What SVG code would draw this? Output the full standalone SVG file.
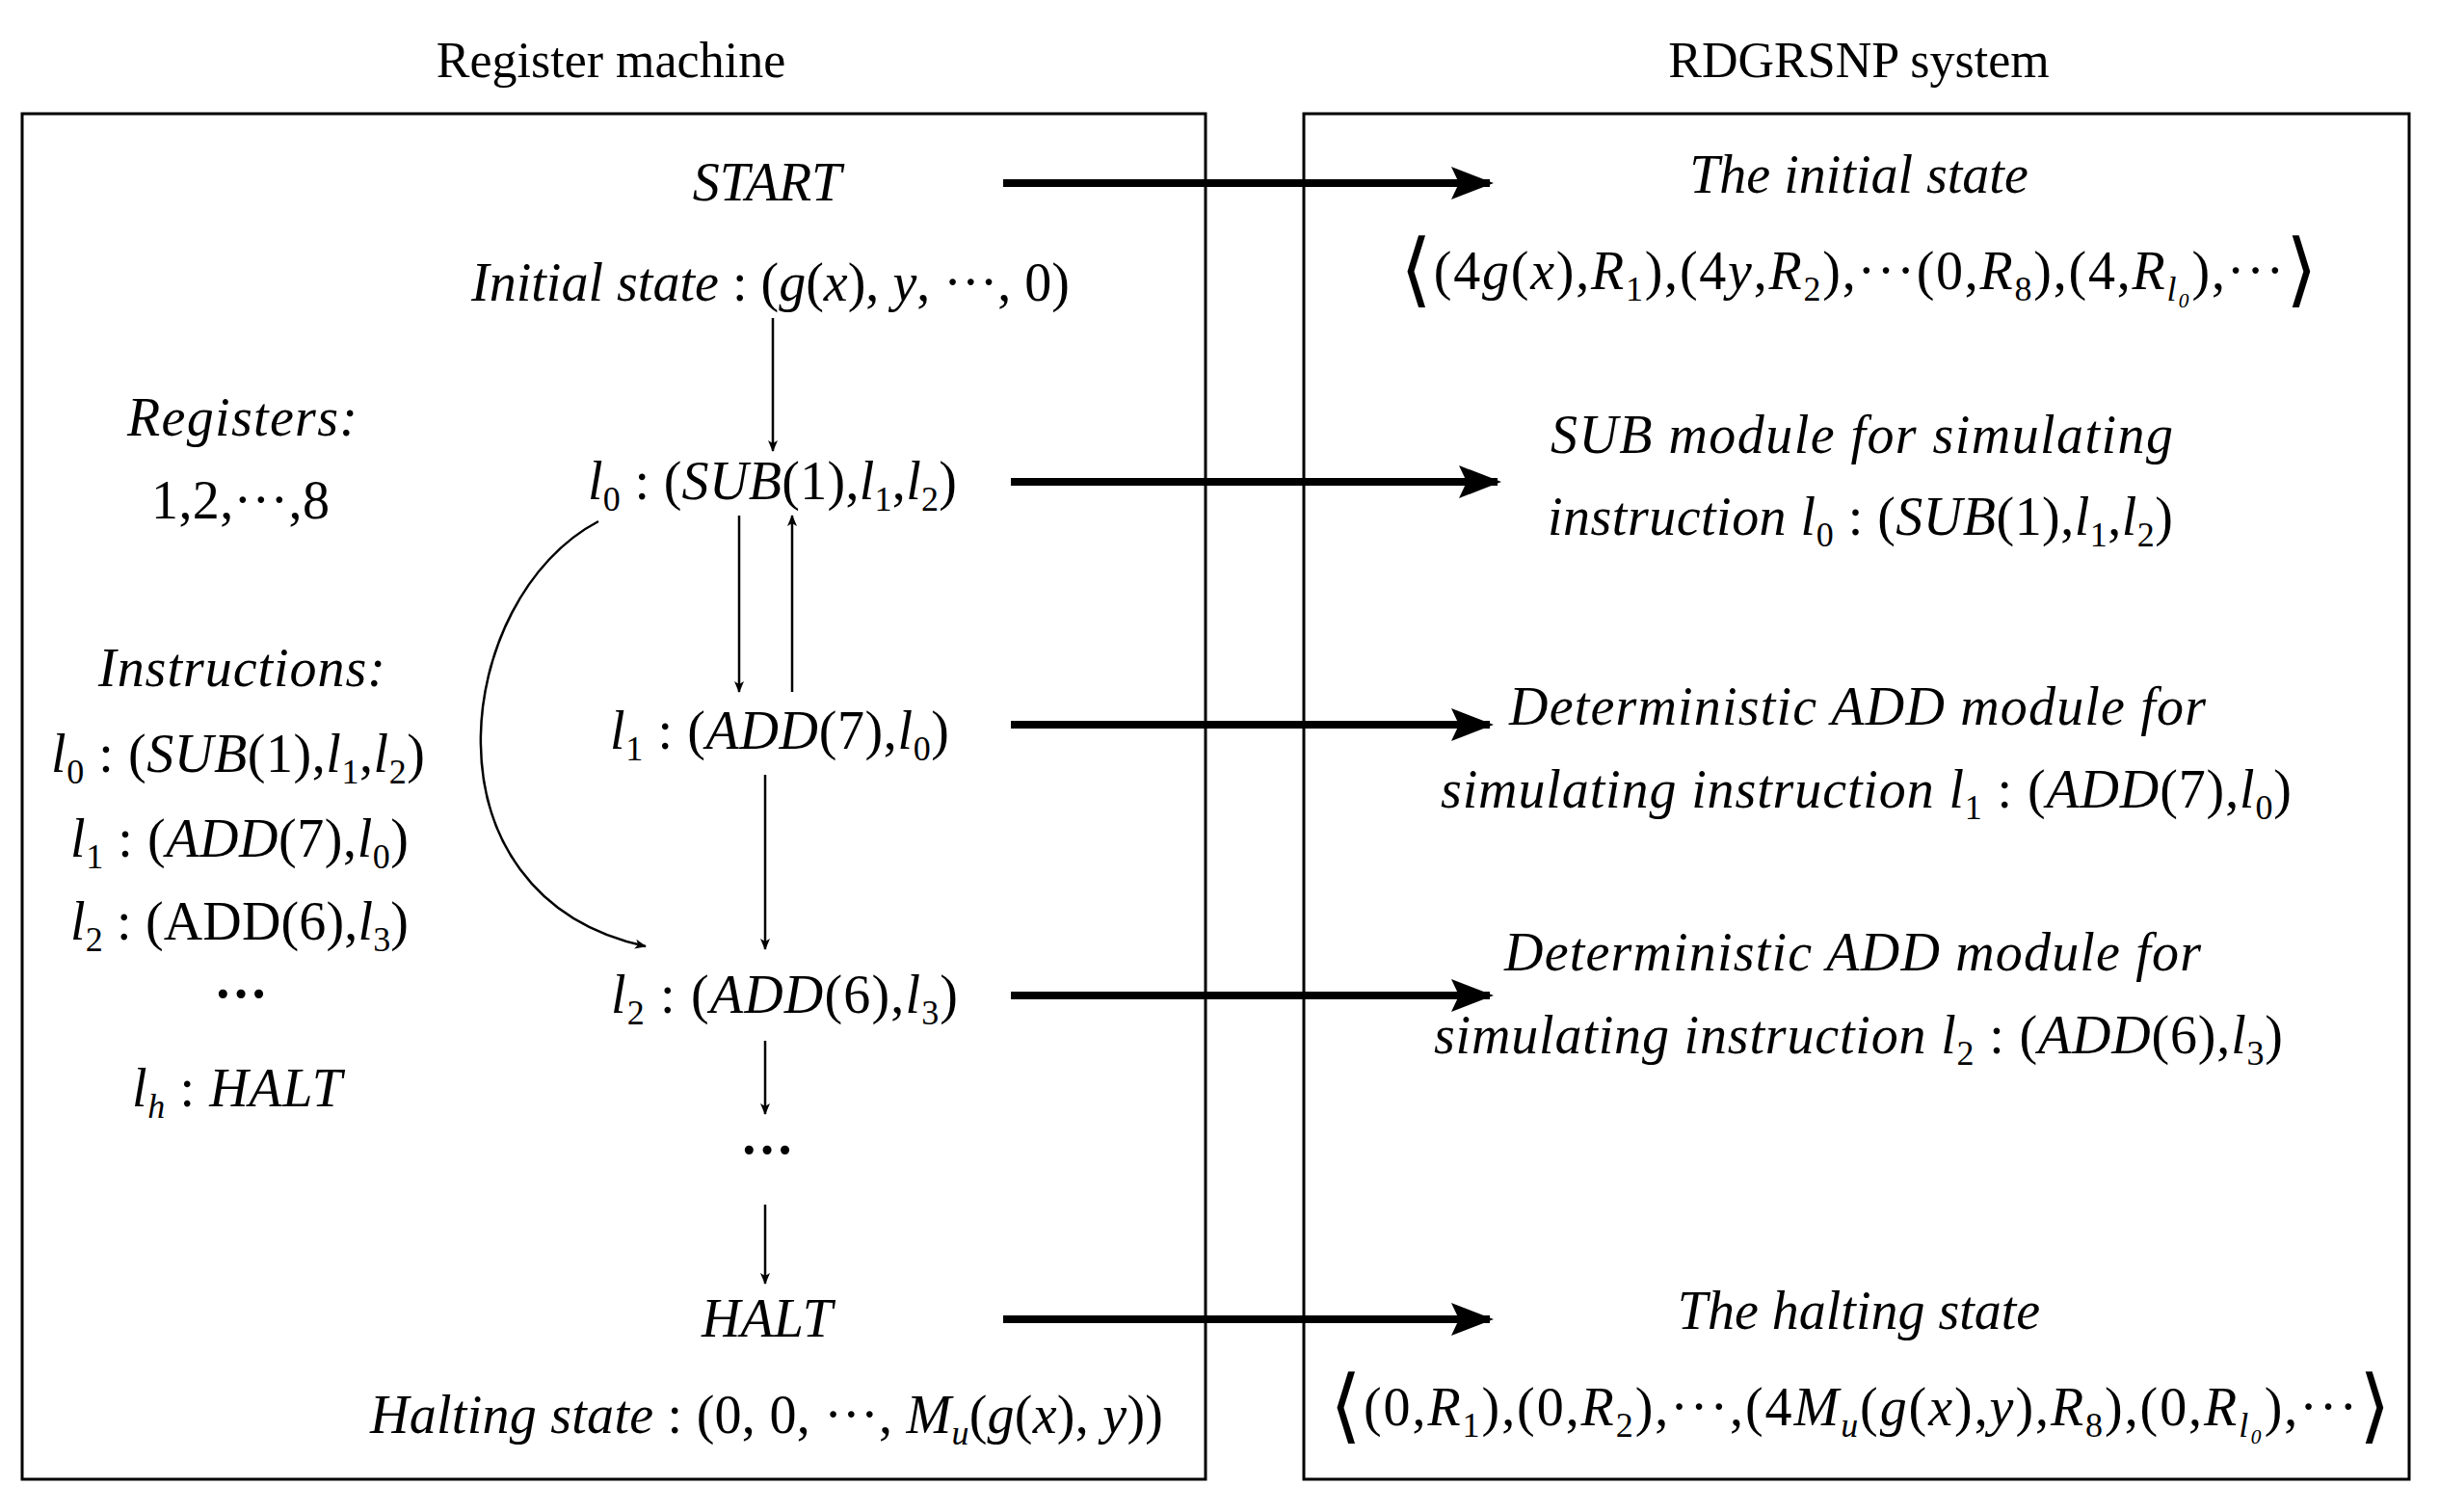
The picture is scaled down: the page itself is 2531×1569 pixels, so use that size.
<svg xmlns="http://www.w3.org/2000/svg" width="2531" height="1569" viewBox="0 0 2531 1569">
<style>
text{font-family:"Liberation Serif","Times New Roman",serif;font-size:56px;fill:#000}
.i{font-style:italic}
.s{font-size:36px}
.t{font-size:52px}
.br{font-size:84px}
.box{fill:none;stroke:#000;stroke-width:3}
.thin{stroke:#000;stroke-width:2.5;fill:none}
.thick{stroke:#000;stroke-width:8;fill:none}
</style>
<defs>
<marker id="a" markerWidth="12" markerHeight="10" refX="11" refY="5" orient="auto" markerUnits="userSpaceOnUse" viewBox="0 0 12 10"><path d="M0,0 L12,5 L0,10 L3,5 Z" fill="#000"/></marker>
<marker id="b" markerWidth="44" markerHeight="34" refX="40" refY="17" orient="auto" markerUnits="userSpaceOnUse" viewBox="0 0 44 34"><path d="M0,0 L44,17 L0,34 L8,17 Z" fill="#000"/></marker>
</defs>
<rect width="2531" height="1569" fill="#fff"/>
<g id="titles">
<text class="t" x="634" y="80" text-anchor="middle">Register machine</text>
<text class="t" x="1929" y="80" text-anchor="middle">RDGRSNP system</text>
</g>
<g id="frames">
<rect class="box" x="23" y="118" width="1228" height="1417"/>
<rect class="box" x="1353" y="118" width="1147" height="1417"/>
</g>
<g id="left-info">
<text x="132" y="452" textLength="239" class="i">Registers:</text>
<text x="157" y="538" textLength="185">1,2,···,8</text>
<text x="102" y="712" textLength="298" class="i">Instructions:</text>
<text x="53" y="801" textLength="388"><tspan class="i">l</tspan><tspan class="s" dy="12">0</tspan><tspan dy="-12"> : (</tspan><tspan class="i">SUB</tspan>(1),<tspan class="i">l</tspan><tspan class="s" dy="12">1</tspan><tspan dy="-12">,</tspan><tspan class="i">l</tspan><tspan class="s" dy="12">2</tspan><tspan dy="-12">)</tspan></text>
<text x="73" y="889" textLength="351"><tspan class="i">l</tspan><tspan class="s" dy="12">1</tspan><tspan dy="-12"> : (</tspan><tspan class="i">ADD</tspan>(7),<tspan class="i">l</tspan><tspan class="s" dy="12">0</tspan><tspan dy="-12">)</tspan></text>
<text x="73" y="975" textLength="351"><tspan class="i">l</tspan><tspan class="s" dy="12">2</tspan><tspan dy="-12"> : (ADD(6),</tspan><tspan class="i">l</tspan><tspan class="s" dy="12">3</tspan><tspan dy="-12">)</tspan></text>
<text x="250" y="1050" text-anchor="middle" font-weight="bold">···</text>
<text x="137" y="1148" textLength="218"><tspan class="i">l</tspan><tspan class="s i" dy="12">h</tspan><tspan dy="-12"> : </tspan><tspan class="i">HALT</tspan></text>
</g>
<g id="n-start"><text class="i" x="796" y="208" text-anchor="middle">START</text></g>
<g id="n-init"><text x="489" y="312" textLength="621"><tspan class="i">Initial state</tspan> : (<tspan class="i">g</tspan>(<tspan class="i">x</tspan>), <tspan class="i">y</tspan>, ···, 0)</text></g>
<g id="n-l0"><text x="610" y="518" textLength="383"><tspan class="i">l</tspan><tspan class="s" dy="12">0</tspan><tspan dy="-12"> : (</tspan><tspan class="i">SUB</tspan>(1),<tspan class="i">l</tspan><tspan class="s" dy="12">1</tspan><tspan dy="-12">,</tspan><tspan class="i">l</tspan><tspan class="s" dy="12">2</tspan><tspan dy="-12">)</tspan></text></g>
<g id="n-l1"><text x="633" y="777" textLength="352"><tspan class="i">l</tspan><tspan class="s" dy="12">1</tspan><tspan dy="-12"> : (</tspan><tspan class="i">ADD</tspan>(7),<tspan class="i">l</tspan><tspan class="s" dy="12">0</tspan><tspan dy="-12">)</tspan></text></g>
<g id="n-l2"><text x="634" y="1051" textLength="360"><tspan class="i">l</tspan><tspan class="s" dy="12">2</tspan><tspan dy="-12"> : (</tspan><tspan class="i">ADD</tspan>(6),<tspan class="i">l</tspan><tspan class="s" dy="12">3</tspan><tspan dy="-12">)</tspan></text></g>
<g id="n-dots"><text x="796" y="1212" text-anchor="middle" font-weight="bold">···</text></g>
<g id="n-halt"><text class="i" x="796" y="1387" text-anchor="middle">HALT</text></g>
<g id="n-hstate"><text x="384" y="1487" textLength="823"><tspan class="i">Halting state</tspan> : (0, 0, ···, <tspan class="i">M</tspan><tspan class="s i" dy="12">u</tspan><tspan dy="-12">(</tspan><tspan class="i">g</tspan>(<tspan class="i">x</tspan>), <tspan class="i">y</tspan>))</text></g>
<g id="r-init">
<text class="i" x="1929" y="200" text-anchor="middle">The initial state</text>
<text x="1453" y="300" textLength="952"><tspan class="br" dy="8">⟨</tspan><tspan dy="-8">(4</tspan><tspan class="i">g</tspan>(<tspan class="i">x</tspan>),<tspan class="i">R</tspan><tspan class="s" dy="12">1</tspan><tspan dy="-12">),(4</tspan><tspan class="i">y</tspan>,<tspan class="i">R</tspan><tspan class="s" dy="12">2</tspan><tspan dy="-12">),···(0,</tspan><tspan class="i">R</tspan><tspan class="s" dy="12">8</tspan><tspan dy="-12">),(4,</tspan><tspan class="i">R</tspan><tspan class="s i" dy="12">l₀</tspan><tspan dy="-12">),···</tspan><tspan class="br" dy="8">⟩</tspan></text>
</g>
<g id="r-sub">
<text class="i" x="1609" y="470" textLength="646">SUB module for simulating</text>
<text x="1606" y="555" textLength="649"><tspan class="i">instruction l</tspan><tspan class="s" dy="12">0</tspan><tspan dy="-12"> : (</tspan><tspan class="i">SUB</tspan>(1),<tspan class="i">l</tspan><tspan class="s" dy="12">1</tspan><tspan dy="-12">,</tspan><tspan class="i">l</tspan><tspan class="s" dy="12">2</tspan><tspan dy="-12">)</tspan></text>
</g>
<g id="r-add1">
<text class="i" x="1566" y="752" textLength="723">Deterministic ADD module for</text>
<text x="1495" y="838" textLength="883"><tspan class="i">simulating instruction l</tspan><tspan class="s" dy="12">1</tspan><tspan dy="-12"> : (</tspan><tspan class="i">ADD</tspan>(7),<tspan class="i">l</tspan><tspan class="s" dy="12">0</tspan><tspan dy="-12">)</tspan></text>
</g>
<g id="r-add2">
<text class="i" x="1561" y="1007" textLength="723">Deterministic ADD module for</text>
<text x="1488" y="1093" textLength="881"><tspan class="i">simulating instruction l</tspan><tspan class="s" dy="12">2</tspan><tspan dy="-12"> : (</tspan><tspan class="i">ADD</tspan>(6),<tspan class="i">l</tspan><tspan class="s" dy="12">3</tspan><tspan dy="-12">)</tspan></text>
</g>
<g id="r-halt">
<text class="i" x="1929" y="1379" text-anchor="middle">The halting state</text>
<text x="1380" y="1479" textLength="1101"><tspan class="br" dy="8">⟨</tspan><tspan dy="-8">(0,</tspan><tspan class="i">R</tspan><tspan class="s" dy="12">1</tspan><tspan dy="-12">),(0,</tspan><tspan class="i">R</tspan><tspan class="s" dy="12">2</tspan><tspan dy="-12">),···,(4</tspan><tspan class="i">M</tspan><tspan class="s i" dy="12">u</tspan><tspan dy="-12">(</tspan><tspan class="i">g</tspan>(<tspan class="i">x</tspan>),<tspan class="i">y</tspan>),<tspan class="i">R</tspan><tspan class="s" dy="12">8</tspan><tspan dy="-12">),(0,</tspan><tspan class="i">R</tspan><tspan class="s i" dy="12">l₀</tspan><tspan dy="-12">),···</tspan><tspan class="br" dy="8">⟩</tspan></text>
</g>
<g id="connectors">
<path class="thin" d="M802,330 V468" marker-end="url(#a)"/>
<path class="thin" d="M767,535 V718" marker-end="url(#a)"/>
<path class="thin" d="M822,718 V535" marker-end="url(#a)"/>
<path class="thin" d="M794,804 V985" marker-end="url(#a)"/>
<path class="thin" d="M794,1080 V1156" marker-end="url(#a)"/>
<path class="thin" d="M794,1250 V1332" marker-end="url(#a)"/>
<path class="thin" d="M621,541 C470,620 430,930 670,982" marker-end="url(#a)"/>
<path class="thick" d="M1041,190 H1546" marker-end="url(#b)"/>
<path class="thick" d="M1049,500 H1554" marker-end="url(#b)"/>
<path class="thick" d="M1049,752 H1546" marker-end="url(#b)"/>
<path class="thick" d="M1049,1033 H1546" marker-end="url(#b)"/>
<path class="thick" d="M1041,1369 H1546" marker-end="url(#b)"/>
</g>
</svg>
